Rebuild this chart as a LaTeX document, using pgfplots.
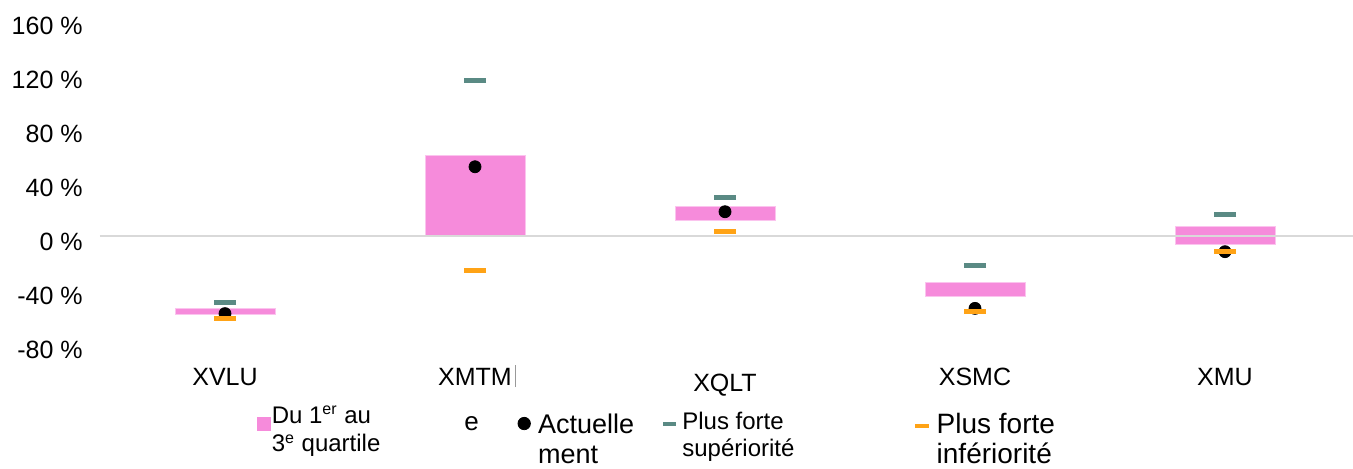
\documentclass[border=0pt]{standalone}
\usepackage{pgfplots}
\pgfplotsset{compat=1.18}
\usepackage{pgfplotstable}
\usepackage{fontspec}
\setmainfont{Liberation Sans}
\definecolor{pinkq}{HTML}{F68BDB}
\definecolor{pinkl}{HTML}{FBC4EE}
\definecolor{greenq}{HTML}{5A8A84}
\definecolor{orangeq}{HTML}{FFA316}
\definecolor{zeroc}{HTML}{D9D9D9}

\pgfplotstableread{
x cur sup inf
0 -57.5 -49.3 -61.0
1 51.3 115.0 -25.6
2 18.0 28.5 3.3
3 -53.6 -21.9 -55.9
4 -11.6 15.9 -11.5
}\markdata

\begin{document}
\begin{tikzpicture}
\path[use as bounding box] (0pt,0pt) rectangle (676.5pt,234pt);
\begin{axis}[
  at={(50pt,62pt)}, anchor=south west,
  scale only axis, width=625pt, height=162pt,
  xmin=-0.5, xmax=4.5, ymin=-80, ymax=160,
  clip=false,
  axis line style={draw=none},
  major tick length=0pt,
  tick style={draw=none},
  ytick={-80,-40,0,40,80,120,160},
  yticklabels={-80~\%,-40~\%,0~\%,40~\%,80~\%,120~\%,160~\%},
  xtick={0,1,2,3,4},
  xticklabels={XVLU,XMTM\rlap{\hspace{1.5pt}\textcolor{black!40}{\rule[-1pt]{0.4pt}{11pt}}},\raisebox{-3pt}{XQLT},XSMC,XMU},
  yticklabel style={anchor=base east, inner sep=0pt, xshift=-8.5pt, yshift=-7.2pt, font=\fontsize{12.5}{14}\selectfont},
  xticklabel style={anchor=base, inner sep=0pt, yshift=-20.5pt, font=\fontsize{12.5}{14}\selectfont},
  legend columns=4,
  legend style={at={(0.12,-0.1775)}, anchor=north west, draw=none, fill=none,
    inner sep=0pt, outer sep=0pt, nodes={inner sep=0pt, outer sep=0pt},
    cells={anchor=base west}, column sep=0pt, row sep=0pt},
]
% interquartile boxes
\addplot[fill=pinkq, draw=pinkl, line width=0.5pt, forget plot] coordinates {(-0.2,-58.5) (0.2,-58.5) (0.2,-53.6) (-0.2,-53.6)} --cycle;
\addplot[fill=pinkq, draw=pinkl, line width=0.5pt, forget plot] coordinates {(0.8,0) (1.2,0) (1.2,59.8) (0.8,59.8)} --cycle;
\addplot[fill=pinkq, draw=pinkl, line width=0.5pt, forget plot] coordinates {(1.8,11.3) (2.2,11.3) (2.2,22.2) (1.8,22.2)} --cycle;
\addplot[fill=pinkq, draw=pinkl, line width=0.5pt, forget plot] coordinates {(2.8,-45.0) (3.2,-45.0) (3.2,-34.8) (2.8,-34.8)} --cycle;
\addplot[fill=pinkq, draw=pinkl, line width=0.5pt, forget plot] coordinates {(3.8,-6.1) (4.2,-6.1) (4.2,7.4) (3.8,7.4)} --cycle;
% zero line
\addplot[zeroc, line width=1pt, forget plot] coordinates {(-0.5,0) (4.512,0)};
% markers
\addplot[only marks, mark=*, mark size=3pt, mark options={fill=black, draw=black}, forget plot] table[x=x, y=cur] {\markdata};
\addplot[only marks, mark=-, mark size=5.5pt, mark options={line width=2.5pt, draw=greenq}, forget plot] table[x=x, y=sup] {\markdata};
\addplot[only marks, mark=-, mark size=5.5pt, mark options={line width=2.4pt, draw=orangeq}, forget plot] table[x=x, y=inf] {\markdata};
% legend
\addlegendimage{legend image code/.code={\fill[pinkq] (3.5pt,1.75pt) rectangle (10pt,8.25pt); \path (0pt,0pt) (10.5pt,12pt);}}
\addlegendentry{\makebox[120.75pt][l]{\raisebox{5pt}{\parbox[t]{90pt}{\fontsize{12}{14.2}\selectfont Du 1\textsuperscript{er} au\\3\textsuperscript{e} quartile}}\hspace{6.25pt}\raisebox{1.3pt}{\fontsize{13}{15}\selectfont e}}}
\addlegendimage{legend image code/.code={\fill[black] (5.25pt,5pt) circle (3.1pt); \path (0pt,0pt) (12pt,12pt);}}
\addlegendentry{\makebox[59.75pt][l]{\parbox[t]{59pt}{\fontsize{13.5}{15}\selectfont\rule{0pt}{16pt}Actuelle\\ment}}}
\addlegendimage{legend image code/.code={\fill[greenq] (2.5pt,4pt) rectangle (8.5pt,5.7pt); \path (0pt,0pt) (12pt,12pt);}}
\addlegendentry{\makebox[114.75pt][l]{\raisebox{2.2pt}{\parbox[t]{110pt}{\fontsize{12}{13.85}\selectfont Plus forte\\supériorité}}}}
\addlegendimage{legend image code/.code={\fill[orangeq] (1.6pt,3pt) rectangle (8.25pt,4.7pt); \path (0pt,0pt) (12pt,12pt);}}
\addlegendentry{\parbox[t]{80pt}{\fontsize{14}{15}\selectfont Plus forte\\infériorité}}
\end{axis}
\end{tikzpicture}
\end{document}
